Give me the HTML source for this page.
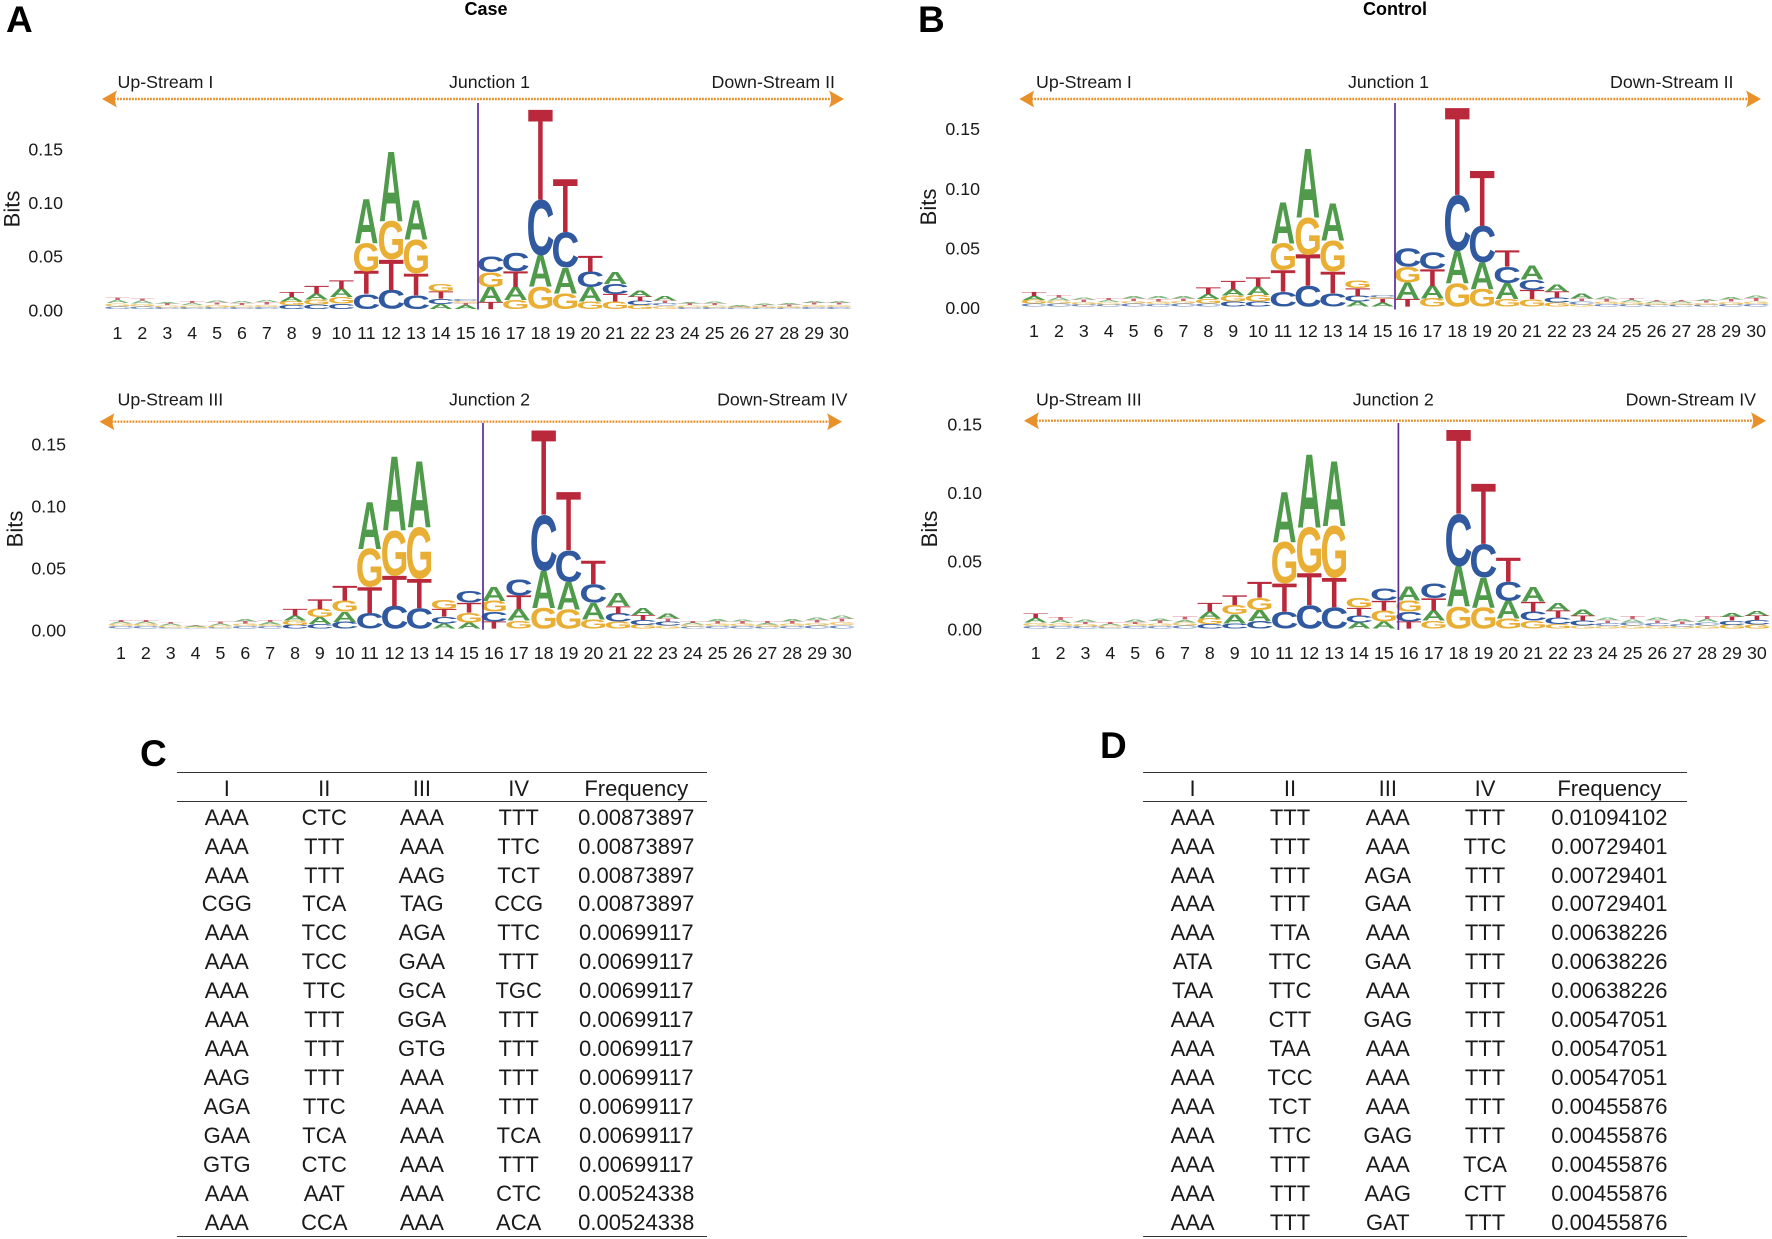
<!DOCTYPE html>
<html lang="en">
<head>
<meta charset="utf-8">
<title>Junction sequence logos and frequency tables</title>
<style>
html,body{margin:0;padding:0;background:#fff;}
#page{position:relative;width:1772px;height:1239px;overflow:hidden;background:#fff;font-family:"Liberation Sans",sans-serif;color:#1a1a1a;}
#logos{position:absolute;left:0;top:0;}
svg text{font-family:"Liberation Sans",sans-serif;}
.panel-letter{position:absolute;font-weight:bold;font-size:37px;line-height:37px;color:#000;}
table.freq{position:absolute;top:772px;border-collapse:separate;border-spacing:0;table-layout:fixed;font-size:22px;border-top:1.6px solid #333;border-bottom:1.6px solid #333;}
table.freq th{font-weight:normal;height:27.6px;line-height:27.6px;padding:0;text-align:center;border-bottom:1.6px solid #333;}
table.freq th span,table.freq td span{position:relative;top:2px;}
table.freq td{height:28.95px;line-height:28.95px;padding:0;text-align:center;white-space:nowrap;}
</style>
</head>
<body>
<div id="page">
<svg id="logos" width="1772" height="1239" viewBox="0 0 1772 1239" xmlns="http://www.w3.org/2000/svg"></svg>

<div class="panel-letter" style="left:6px;top:1px">A</div>
<div class="panel-letter" style="left:918px;top:1px">B</div>
<div class="panel-letter" style="left:140px;top:735px">C</div>
<div class="panel-letter" style="left:1100px;top:727px">D</div>

<table class="freq" style="left:177px;width:530px">
<colgroup><col style="width:99.6px"><col style="width:95.4px"><col style="width:99.8px"><col style="width:93.8px"><col style="width:141.4px"></colgroup>
<thead><tr><th><span>I</span></th><th><span>II</span></th><th><span>III</span></th><th><span>IV</span></th><th><span>Frequency</span></th></tr></thead>
<tbody>
<tr><td><span>AAA</span></td><td><span>CTC</span></td><td><span>AAA</span></td><td><span>TTT</span></td><td><span>0.00873897</span></td></tr>
<tr><td><span>AAA</span></td><td><span>TTT</span></td><td><span>AAA</span></td><td><span>TTC</span></td><td><span>0.00873897</span></td></tr>
<tr><td><span>AAA</span></td><td><span>TTT</span></td><td><span>AAG</span></td><td><span>TCT</span></td><td><span>0.00873897</span></td></tr>
<tr><td><span>CGG</span></td><td><span>TCA</span></td><td><span>TAG</span></td><td><span>CCG</span></td><td><span>0.00873897</span></td></tr>
<tr><td><span>AAA</span></td><td><span>TCC</span></td><td><span>AGA</span></td><td><span>TTC</span></td><td><span>0.00699117</span></td></tr>
<tr><td><span>AAA</span></td><td><span>TCC</span></td><td><span>GAA</span></td><td><span>TTT</span></td><td><span>0.00699117</span></td></tr>
<tr><td><span>AAA</span></td><td><span>TTC</span></td><td><span>GCA</span></td><td><span>TGC</span></td><td><span>0.00699117</span></td></tr>
<tr><td><span>AAA</span></td><td><span>TTT</span></td><td><span>GGA</span></td><td><span>TTT</span></td><td><span>0.00699117</span></td></tr>
<tr><td><span>AAA</span></td><td><span>TTT</span></td><td><span>GTG</span></td><td><span>TTT</span></td><td><span>0.00699117</span></td></tr>
<tr><td><span>AAG</span></td><td><span>TTT</span></td><td><span>AAA</span></td><td><span>TTT</span></td><td><span>0.00699117</span></td></tr>
<tr><td><span>AGA</span></td><td><span>TTC</span></td><td><span>AAA</span></td><td><span>TTT</span></td><td><span>0.00699117</span></td></tr>
<tr><td><span>GAA</span></td><td><span>TCA</span></td><td><span>AAA</span></td><td><span>TCA</span></td><td><span>0.00699117</span></td></tr>
<tr><td><span>GTG</span></td><td><span>CTC</span></td><td><span>AAA</span></td><td><span>TTT</span></td><td><span>0.00699117</span></td></tr>
<tr><td><span>AAA</span></td><td><span>AAT</span></td><td><span>AAA</span></td><td><span>CTC</span></td><td><span>0.00524338</span></td></tr>
<tr><td><span>AAA</span></td><td><span>CCA</span></td><td><span>AAA</span></td><td><span>ACA</span></td><td><span>0.00524338</span></td></tr>
</tbody>
</table>

<table class="freq" style="left:1143px;width:543.5px">
<colgroup><col style="width:99.2px"><col style="width:95.6px"><col style="width:100px"><col style="width:94.4px"><col style="width:154.3px"></colgroup>
<thead><tr><th><span>I</span></th><th><span>II</span></th><th><span>III</span></th><th><span>IV</span></th><th><span>Frequency</span></th></tr></thead>
<tbody>
<tr><td><span>AAA</span></td><td><span>TTT</span></td><td><span>AAA</span></td><td><span>TTT</span></td><td><span>0.01094102</span></td></tr>
<tr><td><span>AAA</span></td><td><span>TTT</span></td><td><span>AAA</span></td><td><span>TTC</span></td><td><span>0.00729401</span></td></tr>
<tr><td><span>AAA</span></td><td><span>TTT</span></td><td><span>AGA</span></td><td><span>TTT</span></td><td><span>0.00729401</span></td></tr>
<tr><td><span>AAA</span></td><td><span>TTT</span></td><td><span>GAA</span></td><td><span>TTT</span></td><td><span>0.00729401</span></td></tr>
<tr><td><span>AAA</span></td><td><span>TTA</span></td><td><span>AAA</span></td><td><span>TTT</span></td><td><span>0.00638226</span></td></tr>
<tr><td><span>ATA</span></td><td><span>TTC</span></td><td><span>GAA</span></td><td><span>TTT</span></td><td><span>0.00638226</span></td></tr>
<tr><td><span>TAA</span></td><td><span>TTC</span></td><td><span>AAA</span></td><td><span>TTT</span></td><td><span>0.00638226</span></td></tr>
<tr><td><span>AAA</span></td><td><span>CTT</span></td><td><span>GAG</span></td><td><span>TTT</span></td><td><span>0.00547051</span></td></tr>
<tr><td><span>AAA</span></td><td><span>TAA</span></td><td><span>AAA</span></td><td><span>TTT</span></td><td><span>0.00547051</span></td></tr>
<tr><td><span>AAA</span></td><td><span>TCC</span></td><td><span>AAA</span></td><td><span>TTT</span></td><td><span>0.00547051</span></td></tr>
<tr><td><span>AAA</span></td><td><span>TCT</span></td><td><span>AAA</span></td><td><span>TTT</span></td><td><span>0.00455876</span></td></tr>
<tr><td><span>AAA</span></td><td><span>TTC</span></td><td><span>GAG</span></td><td><span>TTT</span></td><td><span>0.00455876</span></td></tr>
<tr><td><span>AAA</span></td><td><span>TTT</span></td><td><span>AAA</span></td><td><span>TCA</span></td><td><span>0.00455876</span></td></tr>
<tr><td><span>AAA</span></td><td><span>TTT</span></td><td><span>AAG</span></td><td><span>CTT</span></td><td><span>0.00455876</span></td></tr>
<tr><td><span>AAA</span></td><td><span>TTT</span></td><td><span>GAT</span></td><td><span>TTT</span></td><td><span>0.00455876</span></td></tr>
</tbody>
</table>
</div>

<script>
// ---- Chart data: position labels, tick labels, stack order (bottom to top), letter heights in bits ----
const positions = [1,2,3,4,5,6,7,8,9,10,11,12,13,14,15,16,17,18,19,20,21,22,23,24,25,26,27,28,29,30];
const yTickValues = [0, 0.05, 0.10, 0.15];
const yTickLabels = ["0.00", "0.05", "0.10", "0.15"];

const caseJ1Order = ["CGAT","CGAT","CGTA","CGAT","CGTA","CGTA","CGTA","CGAT","CGAT","CGAT","CTGA","CTGA","CTGA","ACTG","ATGC","TAGC","GATC","GACT","GACT","GACT","GTCA","GCTA","GCTA","CGTA","CGTA","CGTA","CGTA","CGTA","CGTA","CGTA"];
const caseJ1Bits = [
[.0025,.003,.003,.0025],[.0025,.0025,.003,.002],[.0015,.002,.0015,.001],[.0015,.002,.002,.0015],[.0015,.0025,.002,.0015],[.0015,.002,.002,.0015],[.002,.002,.0025,.0015],
[.0035,.0035,.004,.0045],[.004,.005,.0055,.007],[.005,.006,.0075,.008],[.014,.021,.026,.041],[.018,.028,.036,.064],[.013,.020,.032,.036],[.0045,.005,.0065,.0075],[.0035,.002,.002,.002],
[.0065,.014,.014,.0145],[.0085,.012,.0145,.017],[.021,.029,.052,.083],[.0145,.024,.033,.049],[.007,.0135,.0145,.0145],[.007,.007,.0095,.0115],[.0035,.004,.004,.0055],[.003,.0025,.0025,.004],
[.0015,.002,.0015,.001],[.0015,.002,.0015,.0015],[.001,.001,.0005,.001],[.001,.0015,.001,.001],[.001,.0015,.0015,.001],[.002,.002,.0015,.002],[.002,.002,.0015,.002]
];

const caseJ2Order = ["CGAT","CGAT","CGAT","CGAT","CGAT","CGTA","CGAT","CGAT","CAGT","CAGT","CTGA","CTGA","CTGA","ACTG","AGTC","TCGA","GATC","GACT","GACT","GACT","GCTA","GCTA","GCTA","CGAT","CGTA","CGTA","CGAT","CGTA","CGTA","CGTA"];
const caseJ2Bits = [
[.002,.002,.0015,.0015],[.002,.002,.0015,.0015],[.001,.0015,.0015,.001],[.0005,.001,.001,.0005],[.001,.0015,.0015,.0015],[.002,.002,.002,.002],[.002,.0015,.002,.0015],
[.003,.0035,.004,.0054],[.0038,.0054,.0067,.0078],[.0056,.008,.0089,.0118],[.0124,.021,.031,.0374],[.0183,.0242,.0366,.059],[.0164,.0234,.042,.053],[.0043,.0054,.006,.0075],[.0048,.008,.008,.0094],
[.0056,.008,.0089,.0113],[.0065,.0091,.0108,.0134],[.0167,.0299,.0452,.068],[.0156,.0223,.0256,.047],[.0075,.0134,.015,.0188],[.0056,.0067,.0059,.0102],[.003,.004,.004,.0054],[.0024,.0032,.0027,.004],
[.0017,.0015,.0015,.0015],[.002,.002,.0018,.002],[.002,.002,.0018,.0017],[.0015,.002,.0012,.0015],[.002,.002,.0018,.002],[.0025,.0023,.0022,.002],[.0028,.0028,.0027,.0025]
];

const controlJ1Order = ["CGAT","CGAT","CGTA","CGAT","CGTA","CGTA","CGTA","CGAT","CGAT","CGAT","CTGA","CTGA","CTGA","ACTG","ATGC","TAGC","GATC","GACT","GACT","GACT","GTCA","GCTA","GCTA","CGTA","CGAT","CGAT","CGAT","CGTA","CGTA","CGTA"];
const controlJ1Bits = [
[.0028,.003,.003,.0032],[.0025,.0025,.0026,.0022],[.002,.002,.002,.0018],[.002,.0018,.0017,.0015],[.0025,.0023,.0022,.002],[.0022,.0023,.0022,.002],[.0025,.0022,.0023,.0022],
[.0028,.0036,.0042,.0056],[.0042,.005,.0053,.007],[.0042,.0056,.007,.0078],[.0126,.0182,.0224,.0344],[.0174,.026,.0316,.0571],[.0112,.0182,.026,.0308],[.0042,.0048,.0064,.0064],[.0034,.003,.0014,.002],
[.0064,.0137,.0134,.0154],[.007,.0104,.014,.0143],[.0196,.0274,.0468,.0728],[.0146,.0224,.0308,.0462],[.0064,.0132,.014,.0134],[.0062,.0078,.009,.012],[.0034,.0042,.005,.0056],[.002,.0028,.0022,.0042],
[.0022,.0022,.002,.002],[.002,.002,.0018,.0018],[.0015,.0015,.0015,.0011],[.0015,.0015,.0015,.0011],[.0016,.0018,.0015,.0015],[.002,.0022,.002,.0019],[.0024,.0024,.0024,.0023]
];

const controlJ2Order = ["CGAT","CGAT","CGTA","CGAT","CGTA","CGTA","CGAT","CGAT","CAGT","CAGT","CTGA","CTGA","CTGA","ACTG","AGTC","TCGA","GATC","GACT","GACT","GACT","GCTA","GCTA","GCTA","GCTA","GCAT","GCTA","GCTA","GCAT","GCTA","GCTA"];
const controlJ2Bits = [
[.002,.0025,.0032,.0035],[.002,.002,.0024,.0024],[.0017,.0017,.0016,.0018],[.001,.0012,.0012,.0012],[.0018,.0018,.0014,.0018],[.002,.002,.0018,.0018],[.0022,.0024,.002,.0022],
[.0034,.0041,.0049,.0061],[.0039,.0066,.0066,.0073],[.0056,.0081,.009,.0115],[.0124,.0207,.0305,.0366],[.0171,.0234,.0337,.0534],[.0156,.0212,.0383,.0471],[.0044,.0051,.0059,.0073],[.0051,.0081,.0073,.009],
[.0051,.0073,.0081,.0102],[.0059,.0073,.009,.011],[.0161,.0293,.0386,.061],[.0156,.022,.0244,.0437],[.0076,.0129,.0139,.0176],[.0059,.0066,.0073,.0105],[.0032,.0049,.0051,.0054],[.0022,.0037,.0037,.0041],
[.002,.0023,.002,.002],[.0022,.0025,.0023,.0025],[.002,.0023,.002,.0018],[.0017,.0018,.0017,.0016],[.0024,.0025,.0023,.0023],[.0028,.003,.0028,.0026],[.003,.0033,.0032,.0032]
];

const letterColors = {A:"#4f9a4b", C:"#30599f", G:"#e9ae34", T:"#b9293b"};
const SVG_NS = "http://www.w3.org/2000/svg";
const svg = document.getElementById("logos");
const orange = "#e8912b";

// Ink extents of Liberation Sans capitals at font-size 100 (T is drawn from the regular weight with a thin outline)
const glyphInk = {A:{x0:0,x1:72.2,y0:0,y1:68.8}, C:{x0:4.6,x1:67.4,y0:-1,y1:69.8}, G:{x0:4.6,x1:72.6,y0:-1,y1:69.8}, T:{x0:1.5,x1:59.4,y0:-0.75,y1:69.5}};

function addText(parent, str, x, y, size, anchor, opts) {
  const t = document.createElementNS(SVG_NS, "text");
  t.setAttribute("x", x);
  t.setAttribute("y", y);
  t.setAttribute("font-size", size);
  t.setAttribute("text-anchor", anchor);
  t.setAttribute("fill", (opts && opts.fill) || "#1a1a1a");
  if (opts && opts.weight) t.setAttribute("font-weight", opts.weight);
  if (opts && opts.transform) t.setAttribute("transform", opts.transform);
  t.textContent = str;
  parent.appendChild(t);
  return t;
}

function drawArrow(parent, x0, x1, y) {
  const line = document.createElementNS(SVG_NS, "line");
  line.setAttribute("x1", x0 + 12);
  line.setAttribute("x2", x1 - 12);
  line.setAttribute("y1", y);
  line.setAttribute("y2", y);
  line.setAttribute("stroke", orange);
  line.setAttribute("stroke-width", "2.4");
  line.setAttribute("stroke-dasharray", "1.8 1.2");
  
  
  parent.appendChild(line);
  const left = document.createElementNS(SVG_NS, "path");
  left.setAttribute("d", `M${x0},${y} L${x0+15},${y-8.5} Q${x0+11},${y} ${x0+15},${y+8.5} Z`);
  left.setAttribute("fill", orange);
  
  
  parent.appendChild(left);
  const right = document.createElementNS(SVG_NS, "path");
  right.setAttribute("d", `M${x1},${y} L${x1-15},${y-8.5} Q${x1-11},${y} ${x1-15},${y+8.5} Z`);
  right.setAttribute("fill", orange);
  
  
  parent.appendChild(right);
}

function drawPanel(p) {
  const g = document.createElementNS(SVG_NS, "g");
  
  
  svg.appendChild(g);

  const xScale = pos => p.x1 + (pos - 1) * p.step;
  const yScale = v => p.y0 - v * p.pxPerBit;
  const yTickScale = v => p.yTick0 - v * p.pxPerBit;
  const letterW = 24.3;

  // y axis tick labels
  yTickValues.forEach((v, i) => {
    const yLabel = addText(g, yTickLabels[i], p.yLabelRight, yTickScale(v) + 6.3, 17.8, "end");
    
    
  });
  const bits = addText(g, "Bits", 0, 0, 22, "middle", {transform: `translate(${p.bitsX},${p.bitsY}) rotate(-90)`});
  
  

  // x axis tick labels
  positions.forEach(pos => {
    const xLabel = addText(g, String(pos), xScale(pos), p.xLabelY + 6.3, 17.8, "middle");
    
    
  });

  // logo stacks
  positions.forEach((pos, i) => {
    let cum = 0;
    const order = p.order[i];
    const vals = p.bits[i];
    for (let k = 0; k < order.length; k++) {
      const ch = order[k];
      const ink = glyphInk[ch];
      const hPx = vals[k] * p.pxPerBit;
      const sx = letterW / (ink.x1 - ink.x0);
      const sy = hPx / (ink.y1 - ink.y0);
      const bottom = yScale(cum);
      const tx = xScale(pos) - letterW / 2 - ink.x0 * sx;
      const ty = bottom + ink.y0 * sy;
      const t = document.createElementNS(SVG_NS, "text");
      t.setAttribute("font-size", "100");
      t.setAttribute("font-weight", ch === "T" ? "normal" : "bold");
      t.setAttribute("fill", letterColors[ch]);
      if (ch === "T") {
        t.setAttribute("stroke", letterColors[ch]);
        t.setAttribute("stroke-width", "1.5");
      }
      if (hPx < 3.5) t.setAttribute("opacity", "0.72");
      t.setAttribute("transform", `translate(${tx.toFixed(2)},${ty.toFixed(2)}) scale(${sx.toFixed(4)},${sy.toFixed(4)})`);
      
      
      t.textContent = ch;
      g.appendChild(t);
      cum += vals[k];
    }
  });

  // junction line
  const v = document.createElementNS(SVG_NS, "line");
  v.setAttribute("x1", p.lineX);
  v.setAttribute("x2", p.lineX);
  v.setAttribute("y1", p.lineTop);
  v.setAttribute("y2", p.lineBottom);
  v.setAttribute("stroke", "#5a2d96");
  v.setAttribute("stroke-width", "1.7");
  
  
  g.appendChild(v);

  drawArrow(g, p.arrowX0, p.arrowX1, p.arrowY);

  const up = addText(g, p.upLabel, p.upX, p.labelY, 17.8, "start");
  
  
  const junction = addText(g, p.junctionLabel, p.junctionX, p.labelY, 17.8, "start");
  
  
  const down = addText(g, p.downLabel, p.downRight, p.labelY, 17.8, "end");
  
  
}

const caseTitle = addText(svg, "Case", 486, 15, 18, "middle", {weight:"bold", fill:"#000"});


const controlTitle = addText(svg, "Control", 1395, 15, 18, "middle", {weight:"bold", fill:"#000"});



drawPanel({name:"case-junction-1-logo", order:caseJ1Order, bits:caseJ1Bits,
  x1:117.5, step:24.88, y0:309, yTick0:310, pxPerBit:1073, yLabelRight:63, bitsX:19.5, bitsY:209, xLabelY:332.7,
  lineX:478, lineTop:103, lineBottom:309.5, arrowX0:102, arrowX1:844, arrowY:99,
  upLabel:"Up-Stream I", junctionLabel:"Junction 1", downLabel:"Down-Stream II", upX:117.5, junctionX:449, downRight:835, labelY:88});
drawPanel({name:"case-junction-2-logo", order:caseJ2Order, bits:caseJ2Bits,
  x1:121, step:24.86, y0:628.7, yTick0:630, pxPerBit:1240, yLabelRight:66, bitsX:22.5, bitsY:529, xLabelY:652.7,
  lineX:483, lineTop:423, lineBottom:629.7, arrowX0:99.5, arrowX1:842, arrowY:421.7,
  upLabel:"Up-Stream III", junctionLabel:"Junction 2", downLabel:"Down-Stream IV", upX:117.5, junctionX:449, downRight:847.5, labelY:405.7});
drawPanel({name:"control-junction-1-logo", order:controlJ1Order, bits:controlJ1Bits,
  x1:1034, step:24.9, y0:306.7, yTick0:307.7, pxPerBit:1192, yLabelRight:980, bitsX:936, bitsY:207, xLabelY:330.7,
  lineX:1395, lineTop:103, lineBottom:309.5, arrowX0:1019.3, arrowX1:1761, arrowY:99,
  upLabel:"Up-Stream I", junctionLabel:"Junction 1", downLabel:"Down-Stream II", upX:1036, junctionX:1348, downRight:1733.5, labelY:88});
drawPanel({name:"control-junction-2-logo", order:controlJ2Order, bits:controlJ2Bits,
  x1:1035.7, step:24.87, y0:628.7, yTick0:629.3, pxPerBit:1367, yLabelRight:982, bitsX:937, bitsY:529, xLabelY:652.7,
  lineX:1398.4, lineTop:423, lineBottom:630, arrowX0:1024, arrowX1:1766, arrowY:420.7,
  upLabel:"Up-Stream III", junctionLabel:"Junction 2", downLabel:"Down-Stream IV", upX:1036, junctionX:1352.7, downRight:1756, labelY:405.7});

document.querySelectorAll("table.freq tbody tr").forEach(row => {
  
  
});
document.querySelectorAll("table.freq td").forEach(cell => {
  
  
});
</script>
</body>
</html>
